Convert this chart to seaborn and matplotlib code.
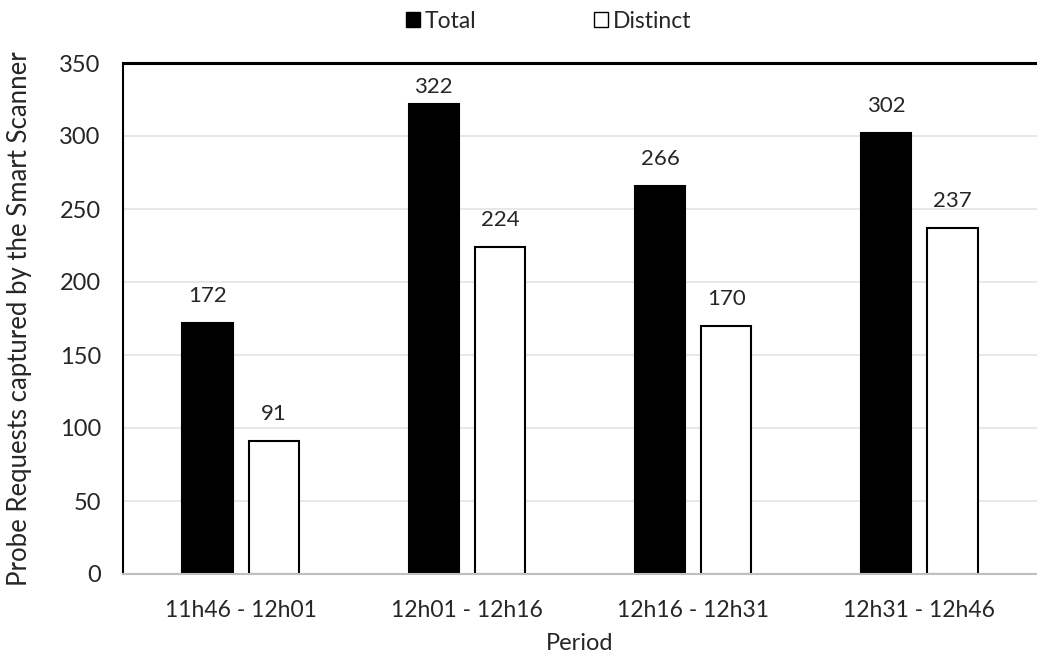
import matplotlib
matplotlib.use("Agg")
import matplotlib.pyplot as plt
import seaborn as sns
import pandas as pd
from matplotlib.patches import Patch

periods = ["11h46 - 12h01", "12h01 - 12h16", "12h16 - 12h31", "12h31 - 12h46"]
total = [172, 322, 266, 302]
distinct = [91, 224, 170, 237]
series = ["Total", "Distinct"]

df = pd.DataFrame({
    "Period": periods * 2,
    "Count": total + distinct,
    "Series": [series[0]] * len(periods) + [series[1]] * len(periods),
})

sns.set_theme(style="white")
plt.rcParams["font.family"] = ["Lato", "DejaVu Sans"]

fig = plt.figure(figsize=(10.37, 6.57), dpi=100)
ax = fig.add_axes([123 / 1037, 1 - 574 / 657, 1 - 123 / 1037, (574 - 63) / 657])

sns.barplot(
    data=df, x="Period", y="Count", hue="Series",
    palette={"Total": "black", "Distinct": "white"},
    width=0.585, gap=0.24, edgecolor="black", linewidth=1.5,
    legend=False, ax=ax,
)

value_labels = []
for container in ax.containers:
    value_labels += ax.bar_label(container, padding=12, fontsize=16)

ax.set_ylim(0, 350)
ax.set_yticks(range(0, 351, 50))
ax.set_xlim(-0.52, 3.52)
ax.yaxis.grid(True, color="#e4e4e4", linewidth=1.2)
ax.set_axisbelow(True)

ax.spines["right"].set_visible(False)
ax.spines["left"].set_color("black")
ax.spines["left"].set_linewidth(1.5)
ax.spines["top"].set_color("black")
ax.spines["top"].set_linewidth(2.2)
ax.spines["bottom"].set_color("#bfbfbf")
ax.spines["bottom"].set_linewidth(1.5)

ax.tick_params(axis="y", labelsize=17, length=0, pad=16)
ax.tick_params(axis="x", labelsize=16.5, length=0, pad=19)
ax.set_xlabel("Period", fontsize=17, labelpad=8)
ax.set_ylabel("Probe Requests captured by the Smart Scanner", fontsize=18.5)
ax.yaxis.set_label_coords(-0.0996, 0.5)

handles = [
    Patch(facecolor="black", edgecolor="black", label="Total"),
    Patch(facecolor="white", edgecolor="black", label="Distinct"),
]
fig.legend(
    handles=handles, loc="upper center", bbox_to_anchor=(0.529, 1.015),
    ncol=2, frameon=False, fontsize=16.5, handlelength=0.65, handleheight=0.65,
    handletextpad=0.2, columnspacing=5.1,
)

# keep value labels inside the plot area
fig.canvas.draw()
renderer = fig.canvas.get_renderer()
limit = ax.get_window_extent().y1 - 14
for lab in value_labels:
    bb = lab.get_window_extent(renderer)
    if bb.y1 > limit:
        dx, dy = lab.xyann
        lab.xyann = (dx, dy - (bb.y1 - limit) * 72 / fig.dpi)

fig.savefig("out.png", dpi=100)
